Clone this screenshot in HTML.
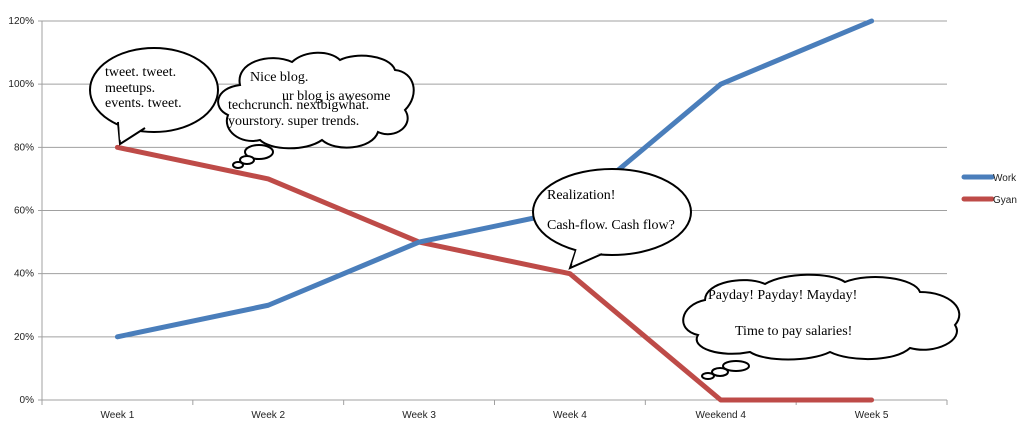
<!DOCTYPE html>
<html><head><meta charset="utf-8"><style>
html,body{margin:0;padding:0;background:#fff;}
svg{display:block;}
.t{font-family:"Liberation Sans",sans-serif;font-size:10px;fill:#222;}
.b{font-family:"Liberation Serif",serif;font-size:14px;fill:#000;}
</style></head><body>
<svg id="c" width="1024" height="429">
<g id="grid"></g>
<g id="axes"></g>
<g id="series"></g>
<g>
<line x1="964" y1="177" x2="992" y2="177" stroke="#4a7ebb" stroke-width="5" stroke-linecap="round"/>
<text class="t" x="993" y="181">Work</text>
<line x1="964" y1="199" x2="992" y2="199" stroke="#be4b48" stroke-width="5" stroke-linecap="round"/>
<text class="t" x="993" y="203">Gyan</text>
</g>
<g fill="#fff" stroke="#000" stroke-width="2">
<ellipse cx="154" cy="90" rx="64" ry="42"/>
<path d="M118,122 L120,144 L145,128" />
<path d="M119,121 L120,140 L144,127 Z" stroke="none"/>
<text class="b" stroke="none" x="105" y="76">tweet. tweet.</text>
<text class="b" stroke="none" x="105" y="92">meetups.</text>
<text class="b" stroke="none" x="105" y="107">events. tweet.</text>
</g>
<g fill="#fff" stroke="#000" stroke-width="2">
<path d="M240,85 C235,62 270,52 292,62 C305,50 330,50 340,60 C355,52 390,55 395,70 C415,72 420,95 405,110 C415,125 395,140 378,132 C372,150 335,152 322,140 C305,152 270,150 260,140 C240,145 222,130 228,115 C212,108 215,88 240,85 Z"/>
<ellipse cx="259" cy="152" rx="14" ry="7"/>
<ellipse cx="247" cy="160" rx="7" ry="4"/>
<ellipse cx="238" cy="165" rx="5" ry="3"/>
<text class="b" stroke="none" x="250" y="81">Nice blog.</text>
<text class="b" stroke="none" x="282" y="100">ur blog is awesome</text>
<text class="b" stroke="none" x="228" y="109">techcrunch. nextbigwhat.</text>
<text class="b" stroke="none" x="228" y="125">yourstory. super trends.</text>
</g>
<g fill="#fff" stroke="#000" stroke-width="2">
<ellipse cx="612" cy="212" rx="79" ry="43"/>
<path d="M576,250 L570,268 L602,254"/>
<path d="M577,248 L572,264 L600,252 Z" stroke="none"/>
<text class="b" stroke="none" x="547" y="199">Realization!</text>
<text class="b" stroke="none" x="547" y="229">Cash-flow. Cash flow?</text>
</g>
<g fill="#fff" stroke="#000" stroke-width="2">
<path d="M705,300 C705,282 745,275 765,284 C785,272 830,272 845,282 C870,272 915,278 920,292 C950,292 968,310 955,325 C965,340 935,355 910,348 C895,362 850,362 830,352 C810,362 765,362 750,352 C720,358 690,348 698,335 C675,330 680,305 705,300 Z"/>
<ellipse cx="736" cy="366" rx="13" ry="5"/>
<ellipse cx="720" cy="372" rx="8" ry="4"/>
<ellipse cx="708" cy="376" rx="6" ry="3"/>
<text class="b" stroke="none" x="708" y="299">Payday! Payday! Mayday!</text>
<text class="b" stroke="none" x="735" y="335">Time to pay salaries!</text>
</g>
</svg>
<script>
const categories=["Week 1","Week 2","Week 3","Week 4","Weekend 4","Week 5"];
const workValues=[20,30,50,60,100,120];
const gyanValues=[80,70,50,40,0,0];
const yTicks=[0,20,40,60,80,100,120];
const yTickLabels=["0%","20%","40%","60%","80%","100%","120%"];
const NS="http://www.w3.org/2000/svg";
const x0=42,x1=947,y0=400,yTop=21;
function xScale(i){return x0+(x1-x0)/categories.length*(i+0.5);}
function yScale(v){return y0-(y0-yTop)*v/120;}
function mk(tag,attrs,parent){const e=document.createElementNS(NS,tag);for(const k in attrs)e.setAttribute(k,attrs[k]);parent.appendChild(e);return e;}
const grid=document.getElementById('grid'),axes=document.getElementById('axes'),series=document.getElementById('series');
yTicks.forEach((v,i)=>{
const l=mk('line',{x1:x0-4,x2:x1,y1:yScale(v),y2:yScale(v),stroke:'#a0a0a0','stroke-width':1},grid);


const t=mk('text',{x:x0-8,y:yScale(v)+3,'text-anchor':'end',class:'t'},axes);
t.textContent=yTickLabels[i];


});
const ya=mk('line',{x1:x0,x2:x0,y1:yTop,y2:y0+5,stroke:'#a0a0a0'},axes);


categories.forEach((c,i)=>{
const tk=mk('line',{x1:x0+(x1-x0)/6*(i+1),x2:x0+(x1-x0)/6*(i+1),y1:y0,y2:y0+5,stroke:'#a0a0a0'},axes);


const t=mk('text',{x:xScale(i),y:418,'text-anchor':'middle',class:'t'},axes);
t.textContent=c;


});
function draw(vals,color,name){
const p=mk('polyline',{points:vals.map((v,i)=>xScale(i)+','+yScale(v)).join(' '),fill:'none',stroke:color,'stroke-width':5,'stroke-linejoin':'round','stroke-linecap':'round'},series);


}
draw(gyanValues,'#be4b48','gyan-line');
draw(workValues,'#4a7ebb','work-line');
</script>
</body></html>
